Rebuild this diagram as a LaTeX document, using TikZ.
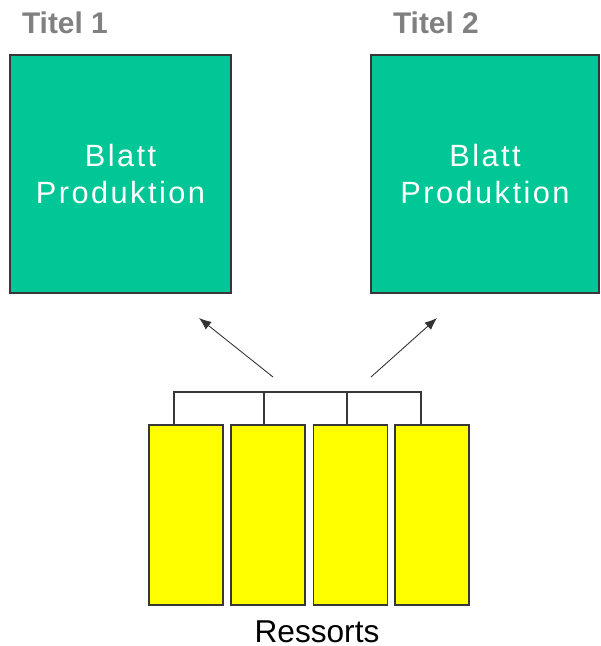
\documentclass[tikz,border=0pt]{standalone}
\usepackage{fontspec}
\setmainfont{Liberation Sans}
\newfontfamily\blattfont[LetterSpace=8]{Liberation Sans}
\newcommand*{\titelfont}{\bfseries\fontsize{17}{20}\selectfont}
\definecolor{G}{RGB}{0,199,149}
\definecolor{Y}{RGB}{255,255,0}
\definecolor{grey}{RGB}{128,128,128}
\definecolor{edge}{RGB}{55,55,55}
\usetikzlibrary{arrows.meta}
\usetikzlibrary{positioning}
\tikzstyle{base}=[x=0.02cm, y=-0.02cm, inner sep=0pt, outer sep=0pt]
\tikzstyle{blatt}=[draw=edge, fill=G, line width=0.6pt, text=white, align=center,
    minimum height=4.76cm, font=\blattfont\fontsize{17.5}{21.6}\selectfont]
\tikzstyle{ressort}=[draw=edge, fill=Y, line width=0.6pt, minimum width=1.48cm, minimum height=3.6cm]
\tikzstyle{titel}=[text=grey, anchor=base west, font=\titelfont]
\tikzstyle{pfeil}=[draw=black!80, line width=0.5pt, -{Latex[length=7pt,width=5.5pt]}]

\begin{document}
\begin{tikzpicture}[base]
    \path [use as bounding box] (0,0) rectangle (600,646);
    % Titel und Blaetter
    \node [titel] (t1) at (22,33) {Titel 1};
    \node [titel] (t2) at (393,33) {Titel 2};
    \node [blatt, minimum width=4.42cm] (b1) at (120.5,174) {Blatt\\Produktion};
    \node [blatt, minimum width=4.56cm] (b2) at (485,174) {Blatt\\Produktion};
    % Ressorts
    \node [ressort] (r1) at (186,515) {};
    \node [ressort] (r2) at (268,515) {};
    \node [ressort] (r3) at (350.5,515) {};
    \node [ressort] (r4) at (432,515) {};
    \node [anchor=base, font=\fontsize{18}{20}\selectfont] (rs) at (317,642) {Ressorts};
    % Klammer ueber den Ressorts
    \coordinate (kl) at (174,392);
    \coordinate (k2) at (264,392);
    \coordinate (k3) at (347,392);
    \coordinate (kr) at (421,392);
    \draw [edge, line width=0.6pt] (r1.north -| kl) -- (kl) -- (kr) -- (r4.north -| kr);
    \draw [edge, line width=0.6pt] (k2) -- (r2.north -| k2);
    \draw [edge, line width=0.6pt] (k3) -- (r3.north -| k3);
    % Pfeile zu den Titeln
    \coordinate (p1) at (273,377);
    \coordinate (q1) at (199,318);
    \coordinate (p2) at (371,377);
    \coordinate (q2) at (437,318);
    \draw [pfeil] (p1) -- (q1);
    \draw [pfeil] (p2) -- (q2);
\end{tikzpicture}
\end{document}
